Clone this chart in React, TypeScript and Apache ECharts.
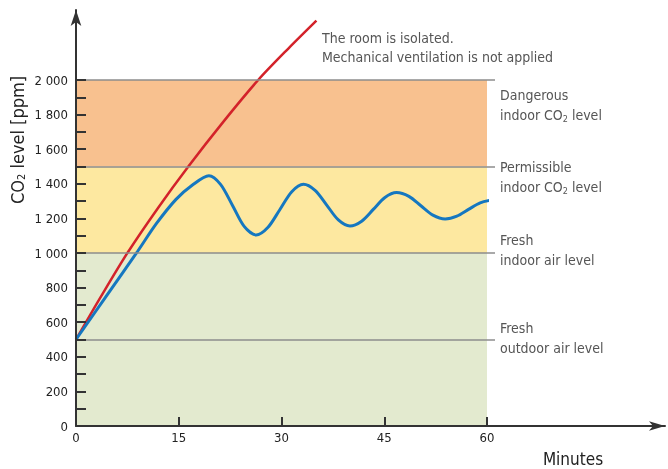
import React, { useEffect, useRef } from 'react';
import * as echarts from 'echarts';

// ---- data ----
const minuteRange = [0, 60];
const minuteStep = 15;
const ppmRange = [0, 2000];
const ppmTickStep = 100;
const ppmLabelStep = 200;

const levelValues = [500, 1000, 1500, 2000];
const levelTitles = ['Fresh', 'Fresh', 'Permissible', 'Dangerous'];
const levelSubtitles = ['outdoor air level', 'indoor air level', 'indoor CO{sub|2} level', 'indoor CO{sub|2} level'];
const levelLineEnd = 61.2; // minutes, lines run slightly past the plot
const bandFrom = [0, 1000, 1500];
const bandTo = [1000, 1500, 2000];

const isolatedMinutes = [0, 3.7, 7.5, 12, 16.4, 21.5, 26.6, 31, 35.1];
const isolatedPpm = [500, 752, 1000, 1262, 1500, 1758, 2000, 2182, 2343];

const ventMinutes = [
  0, 4.5, 9, 11.7, 14.6, 17, 19.4, 21.1, 22.85, 24.55, 26.3, 28, 29.75, 31.5, 33.2, 34.9, 36.6, 38.3,
  40, 41.7, 43.4, 45.1, 46.8, 48.6, 50.35, 52.1, 53.9, 55.6, 57.3, 59, 60.7,
];
const ventPpm = [
  500, 755, 1010, 1168, 1310, 1393, 1447, 1397, 1275, 1154, 1104, 1147, 1250, 1354, 1397, 1362, 1277, 1191,
  1156, 1184, 1252, 1321, 1349, 1327, 1273, 1219, 1197, 1213, 1252, 1290, 1306,
];

const annotationIsolated = 'The room is isolated.\nMechanical ventilation is not applied';
const annotationVent = 'The supply and exhaust ventilation\noperates with control of operation modes';
const yTitle = 'CO{sub|2} level [ppm]';
const xTitle = 'Minutes';

// ---- styles ----
const FONT = '"Liberation Sans Narrow", "DejaVu Sans Condensed", Roboto, sans-serif';
const bandColors = ['#e3eacf', '#fde8a0', '#f8c18f'];
const levelOffsets = [[0, -2], [0, -3], [0, 10], [0, 25]];

export default function App() {
  const ref = useRef<HTMLDivElement>(null);
  useEffect(() => {
    const chart = echarts.init(ref.current!, null, { renderer: 'svg' });
    const fmt = (v: number) => (v >= 1000 ? `${Math.floor(v / 1000)} ${String(v % 1000).padStart(3, '0')}` : String(v));
    const subRich = { sub: { fontSize: 9, fontFamily: FONT, color: '#555', padding: [8, 0, 0, 0] } };
    const hiddenAxis = (gridIndex: number, min: number, max: number) => ({
      gridIndex, type: 'value', min, max, show: false,
      axisLine: { show: false }, axisTick: { show: false }, axisLabel: { show: false }, splitLine: { show: false },
    });
    chart.setOption({
      animation: false,
      grid: [
        { left: 76, right: 181, top: 80, bottom: 43 },
        { left: 76, right: 3, top: 10, bottom: 43 },
        { left: 76, right: 173, top: 80, bottom: 43 },
      ],
      xAxis: [
        {
          gridIndex: 0, type: 'value', min: minuteRange[0], max: minuteRange[1], interval: minuteStep, z: 10,
          axisLine: { show: false },
          axisTick: { show: true, inside: true, length: 9, lineStyle: { color: '#333', width: 2 } },
          axisLabel: { color: '#222', fontSize: 13, fontFamily: FONT, margin: 5 },
          splitLine: { show: false },
        },
        {
          gridIndex: 1, type: 'value', min: 0, max: 1, z: 10,
          axisLine: { show: true, symbol: ['none', 'arrow'], symbolSize: [7, 16], lineStyle: { color: '#333', width: 2 } },
          axisTick: { show: false }, axisLabel: { show: false }, splitLine: { show: false },
        },
        hiddenAxis(2, minuteRange[0], levelLineEnd),
      ],
      yAxis: [
        {
          gridIndex: 0, type: 'value', min: ppmRange[0], max: ppmRange[1], interval: ppmTickStep, z: 10,
          axisLine: { show: false },
          axisTick: { show: true, inside: true, length: 10, lineStyle: { color: '#333', width: 2 } },
          axisLabel: {
            color: '#222', fontSize: 13, fontFamily: FONT, margin: 8,
            formatter: (v: number) => (v % ppmLabelStep === 0 ? fmt(v) : ''),
          },
          splitLine: { show: false },
        },
        {
          gridIndex: 1, type: 'value', min: 0, max: 1, z: 10,
          axisLine: { show: true, symbol: ['none', 'arrow'], symbolSize: [8, 16], lineStyle: { color: '#333', width: 2 } },
          axisTick: { show: false }, axisLabel: { show: false }, splitLine: { show: false },
        },
        hiddenAxis(2, ppmRange[0], ppmRange[1]),
      ],
      series: [
        {
          type: 'line', xAxisIndex: 0, yAxisIndex: 0, data: [], z: 1, silent: true,
          markArea: {
            silent: true,
            data: bandFrom.map((f, i) => [
              { coord: [minuteRange[0], f], itemStyle: { color: bandColors[i], opacity: 1 } },
              { coord: [minuteRange[1], bandTo[i]] },
            ]),
          },
        },
        {
          type: 'line', xAxisIndex: 2, yAxisIndex: 2, data: [], z: 2, silent: true,
          markLine: {
            silent: true,
            symbol: ['none', 'none'],
            lineStyle: { color: '#8c8c8c', width: 1.5, type: 'solid' },
            data: levelValues.map((v, i) => {
              const label = {
                show: true, position: 'end', distance: 5, align: 'left',
                formatter: `${levelTitles[i]}\n${levelSubtitles[i]}`,
                color: '#555', fontSize: 14, fontFamily: FONT, lineHeight: 20,
                offset: levelOffsets[i], rich: subRich,
              };
              return [
                { coord: [minuteRange[0], v], label },
                { coord: [levelLineEnd, v], label },
              ];
            }),
          },
        },
        {
          type: 'line', xAxisIndex: 0, yAxisIndex: 0, z: 4, clip: false,
          data: isolatedMinutes.map((m, i) => [m, isolatedPpm[i]]),
          smooth: 0.3, showSymbol: false, lineStyle: { color: '#d3222a', width: 2.5 },
        },
        {
          type: 'line', xAxisIndex: 0, yAxisIndex: 0, z: 4, clip: false,
          data: ventMinutes.map((m, i) => [m, ventPpm[i]]),
          smooth: 0.3, showSymbol: false, lineStyle: { color: '#1577c0', width: 3 },
        },
      ],
      graphic: [
        {
          type: 'text', x: 322, y: 28,
          style: { text: annotationIsolated, fill: '#555', fontSize: 14, fontFamily: FONT, lineHeight: 19, align: 'left', verticalAlign: 'top' },
        },
        {
          type: 'text', x: 197, y: 277,
          style: { text: annotationVent, fill: '#555', fontSize: 14, fontFamily: FONT, lineHeight: 20, align: 'left', verticalAlign: 'top' },
        },
        {
          type: 'text', x: 573, y: 459,
          style: { text: xTitle, fill: '#222', fontSize: 17, fontFamily: FONT, align: 'center', verticalAlign: 'middle' },
        },
        {
          type: 'text', x: 17, y: 140, rotation: Math.PI / 2,
          style: {
            text: yTitle, fill: '#222', fontSize: 18, fontFamily: FONT, align: 'center', verticalAlign: 'middle',
            rich: { sub: { fontSize: 11, fontFamily: FONT, fill: '#222', padding: [9, 0, 0, 0] } },
          },
        },
      ],
    });
    return () => chart.dispose();
  }, []);
  return <div ref={ref} style={{ position: 'fixed', left: 0, top: 0, width: 668, height: 469 }} />;
}
